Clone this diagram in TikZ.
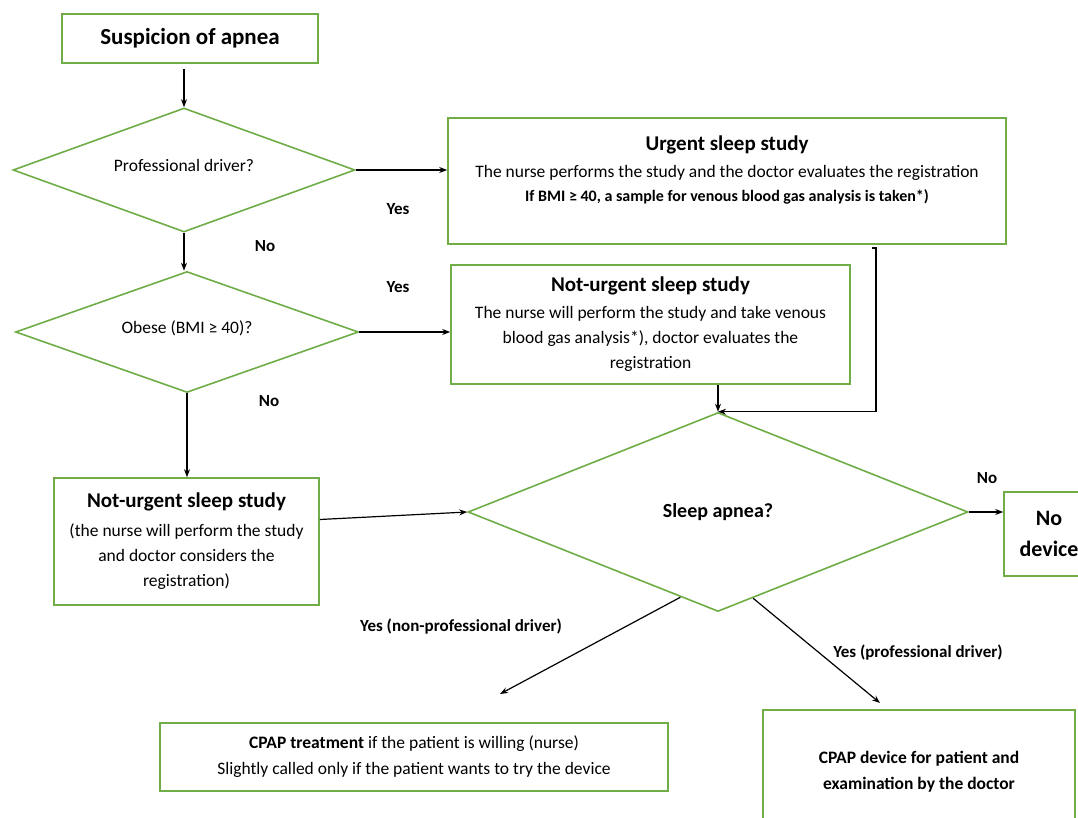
\documentclass[tikz,border=0pt]{standalone}
\usepackage{fontspec}
\setmainfont{Carlito}
\usetikzlibrary{shapes.geometric, arrows.meta, positioning, calc}
\usepackage{xcolor}
\definecolor{flowGreen}{RGB}{112,173,71}
\newcommand{\ttl}[1]{{\fontsize{21}{25}\selectfont\bfseries #1}}
\tikzset{
    >={Stealth[length=8pt, width=6pt]},
    % Colors
    boxGreen/.style={draw=flowGreen, line width=1.6pt, fill=white},
    % Shapes
    stepbox/.style={rectangle, boxGreen, align=center, inner sep=2pt,
                    font=\fontsize{17.5}{25}\selectfont},
    decision/.style={diamond, aspect=2.8, boxGreen, align=center, inner sep=0pt,
                     font=\fontsize{17.5}{21}\selectfont},
    % Flow & Labels
    flow/.style={->, line width=1.2pt, black},
    lbl/.style={font=\fontsize{17}{20}\selectfont\bfseries, inner sep=0pt}
}

\begin{document}
\begin{tikzpicture}[x=1pt, y=-1pt]

\fill[white] (0,0) rectangle (1078,818);
\useasboundingbox (0,0) rectangle (1078,818);
\clip (0,0) rectangle (1078,818);

\node[stepbox, minimum width=256pt, minimum height=49pt] (start) at (190,38.5)
    {\fontsize{23}{27}\selectfont\bfseries Suspicion of apnea};
\node[decision, minimum width=342pt, minimum height=124pt] (pro) at (184,170)
    {\raisebox{10pt}{Professional driver?}};
\node[decision, minimum width=343pt, minimum height=121pt] (obese) at (187,332)
    {\raisebox{10pt}{Obese (BMI ≥ 40)?}};
\node[stepbox, minimum width=558pt, minimum height=126pt,
      font=\fontsize{17.5}{24}\selectfont] (urgent) at (727,181)
    {\ttl{Urgent sleep study}\\[3pt]
     The nurse performs the study and the doctor evaluates the registration\\
     {\fontsize{16}{19}\selectfont\bfseries If BMI ≥ 40, a sample for venous blood gas analysis is taken*)}\\
     ~};
\node[stepbox, minimum width=399pt, minimum height=119pt] (nurgent) at (650.5,324.5)
    {\ttl{Not-urgent sleep study}\\[2pt]
     The nurse will perform the study and take venous\\
     blood gas analysis*), doctor evaluates the\\
     registration};
\node[stepbox, minimum width=265pt, minimum height=127pt] (nurgentB) at (186.5,541.5)
    {\ttl{Not-urgent sleep study}\\[4pt]
     (the nurse will perform the study\\
     and doctor considers the\\
     registration)};
\node[decision, minimum width=500pt, minimum height=199pt] (apnea) at (718,512)
    {\fontsize{20}{24}\selectfont\bfseries Sleep apnea?};
\node[stepbox, minimum width=90pt, minimum height=84pt,
      font=\fontsize{22}{31}\selectfont\bfseries] (nodev) at (1049,534)
    {No\\device};
\node[stepbox, minimum width=508pt, minimum height=68pt,
      font=\fontsize{17.5}{26}\selectfont] (cpapT) at (414,757)
    {\textbf{CPAP treatment} if the patient is willing (nurse)\\
     Slightly called only if the patient wants to try the device};
\node[stepbox, minimum width=312pt, minimum height=124pt,
      font=\fontsize{17.5}{26}\selectfont\bfseries] (cpapD) at (919,772)
    {CPAP device for patient and\\
     examination by the doctor};

% free ends
\coordinate (ue) at (876,248);
\coordinate (toT) at (500,694);
\coordinate (toD) at (880,703);

\draw[flow] ([yshift=-5pt]start.south -| pro.north) -- (pro.north);
\draw[flow] (pro.east) -- (pro.east -| urgent.west);
\draw[flow] (pro.south) -- (pro.south |- obese.north);
\draw[flow] (obese.east) -- (obese.east -| nurgent.west);
\draw[flow] (obese.south) -- (obese.south |- nurgentB.north);
\draw[flow] ([yshift=22pt]nurgentB.east) -- (apnea.west);
\draw[flow] (apnea.north |- nurgent.south) -- (apnea.north);
\draw[flow] ([xshift=-4pt]ue) -- (ue) |- (apnea.north);
\draw[flow] (apnea.east) -- (apnea.east -| nodev.west);
\draw[flow] ($(apnea.south)!0.15!(apnea.west)$) -- (toT);
\draw[flow] ($(apnea.south)!0.14!(apnea.east)$) -- (toD);

\node[lbl] (yesA) at (398,209) {Yes};
\node[lbl] (noA) at (265,246) {No};
\node[lbl] (yesB) at (398,287) {Yes};
\node[lbl] (noB) at (269,401) {No};
\node[lbl] (noC) at (987,478) {No};
\node[lbl] (yesC) at (461,627) {Yes (non-professional driver)};
\node[lbl] (yesD) at (918,653) {Yes (professional driver)};

\end{tikzpicture}
\end{document}
